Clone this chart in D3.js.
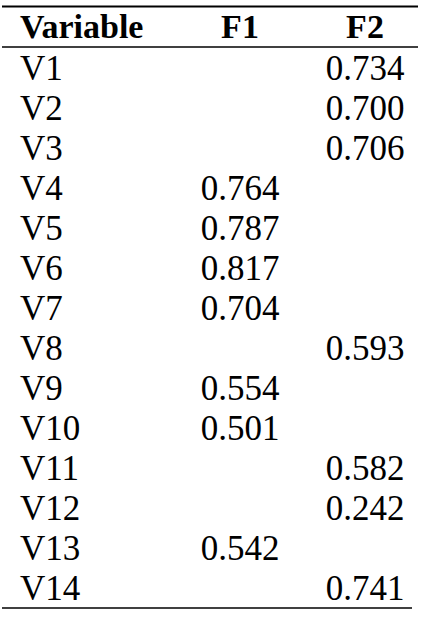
<!DOCTYPE html>
<html><head><meta charset="utf-8">
<script src="https://cdn.jsdelivr.net/npm/d3@7"></script>
<style>body{margin:0;background:#fff} text{font-family:"Liberation Serif","Times New Roman",Times,serif}</style>
</head><body><div id="app"></div>
<script>
const headers = ["Variable", "F1", "F2"];
const variables = ["V1","V2","V3","V4","V5","V6","V7","V8","V9","V10","V11","V12","V13","V14"];
const f1 = [null,null,null,0.764,0.787,0.817,0.704,null,0.554,0.501,null,null,0.542,null];
const f2 = [0.734,0.700,0.706,null,null,null,null,0.593,null,null,0.582,0.242,null,0.741];

const svg = d3.select("#app").append("svg").attr("width", 426).attr("height", 623);
const y = d3.scaleLinear().domain([0, 13]).range([80, 600]);

svg.append("line").attr("x1", 2).attr("x2", 418).attr("y1", 6.5).attr("y2", 6.5).attr("stroke", "#000").attr("stroke-width", 2);
svg.append("line").attr("x1", 2).attr("x2", 418).attr("y1", 47).attr("y2", 47).attr("stroke", "#000").attr("stroke-width", 1.5);
svg.append("line").attr("x1", 2).attr("x2", 412).attr("y1", 608).attr("y2", 608).attr("stroke", "#000").attr("stroke-width", 1.5);

const hx = [20, 240, 365];
svg.selectAll("text.h").data(headers).enter().append("text")
  .attr("x", (d, i) => hx[i]).attr("y", 38)
  .attr("text-anchor", (d, i) => i ? "middle" : "start")
  .style("font-weight", "bold").style("font-size", "34px")
  .text(d => d);

const fmt = d3.format(".3f");
variables.forEach((v, i) => {
  svg.append("text").attr("x", 20).attr("y", y(i))
    .style("font-size", "35px").text(v);
  if (f1[i] != null) svg.append("text").attr("x", 240).attr("y", y(i)).attr("text-anchor", "middle")
    .style("font-size", "35px").text(fmt(f1[i]));
  if (f2[i] != null) svg.append("text").attr("x", 365).attr("y", y(i)).attr("text-anchor", "middle")
    .style("font-size", "35px").text(fmt(f2[i]));
});
</script></body></html>
